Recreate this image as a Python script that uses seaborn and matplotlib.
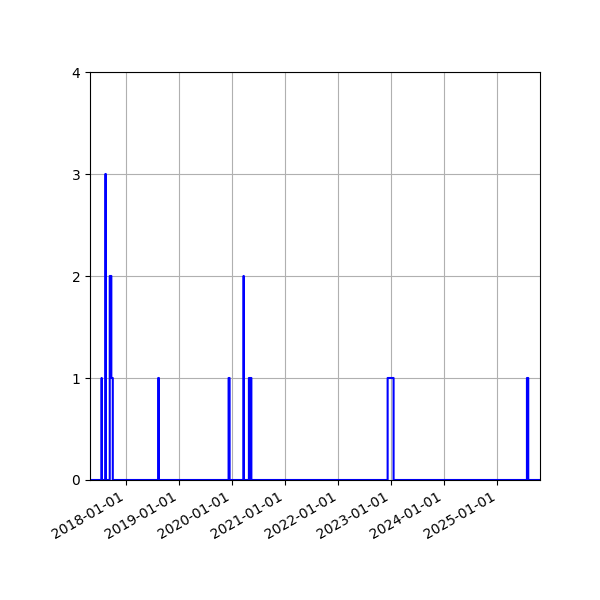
#!/usr/bin/env python
# coding: utf-8

"""
Courbe en escalier du nombre d'éléments actifs par jour
"""

import pandas as pd
import seaborn as sns
import matplotlib
matplotlib.use("Agg")
import matplotlib.pyplot as plt
import matplotlib.dates as mdates

# périodes d'activité : début (inclus), fin (exclue), nombre
period_starts = [
    "2017-07-15", "2017-08-10", "2017-09-09", "2017-09-20", "2018-08-09",
    "2019-12-07", "2020-03-19", "2020-04-25", "2020-05-04", "2022-12-07",
    "2025-07-24",
]
period_ends = [
    "2017-07-16", "2017-08-13", "2017-09-20", "2017-09-30", "2018-08-14",
    "2019-12-14", "2020-03-21", "2020-05-02", "2020-05-12", "2023-01-17",
    "2025-08-02",
]
period_counts = [1, 3, 2, 1, 1, 1, 2, 1, 1, 1, 1]

# bornes de la série journalière (jours sans activité -> 0)
series_start = "2017-04-01"
series_end = "2025-11-01"
x_min = "2017-04-26"
x_max = "2025-10-22"
y_ticks = [0, 1, 2, 3, 4]

days = pd.date_range(series_start, series_end, freq="D")
active = pd.Series(0, index=days)
for start, end, n in zip(period_starts, period_ends, period_counts):
    active[(days >= pd.Timestamp(start)) & (days < pd.Timestamp(end))] += n
df = pd.DataFrame({"date": days, "count": active.values})

fig, ax = plt.subplots(figsize=(6, 6), dpi=100)
sns.lineplot(data=df, x="date", y="count", ax=ax, color="blue",
             linewidth=1.5, drawstyle="steps-post")

# axes et grille
ax.set_xlim(pd.Timestamp(x_min), pd.Timestamp(x_max))
ax.set_ylim(0, 4)
ax.set_yticks(y_ticks)
ax.xaxis.set_major_locator(mdates.YearLocator())
ax.xaxis.set_major_formatter(mdates.DateFormatter("%Y-%m-%d"))
ax.grid(True)
ax.set_xlabel("")
ax.set_ylabel("")
fig.autofmt_xdate()
fig.subplots_adjust(left=0.15, right=0.9, top=0.88, bottom=0.2)

fig.savefig("out.png", dpi=100)
